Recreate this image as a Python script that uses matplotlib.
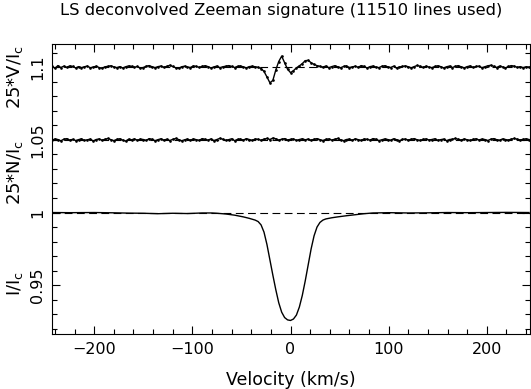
"""
LSD Zeeman signature plot: Stokes I, null N and Stokes V profiles.
"""

import numpy as np
import matplotlib
matplotlib.use("Agg")
import matplotlib.pyplot as plt

plt.rcParams['font.family'] = ['DejaVu Sans']
plt.rcParams['mathtext.default'] = 'regular'

# velocity grid of the N and V profiles (km/s), 3 km/s steps
velocity = np.arange(-243, 244, 3)

# 25*V/Ic deviations from its offset (units of 1e-4)
v_dev = [5, -8, 10, -3, 6, -2, 8, 4, -6, 3,
         -4, 2, 7, -5, 0, 6, -3, -8, 2, 5,
         9, 1, -4, 3, -6, 2, 8, 5, -2, 4,
         -7, -3, 6, 10, 2, -4, 3, 7, -1, 5,
         12, 4, -5, -9, 2, 6, 0, -3, 8, 4,
         -2, 5, 9, 3, -6, 1, 7, -4, 2, 6,
         10, 4, -3, 5, 8, 1, -5, 3, 6, 2,
         -2, -10, -30, -68, -108, -92, -20, 38, 75, 30,
         -15, -38, -25, -5, 8, 24, 44, 46, 30, 18,
         10, 5, 0, 7, -4, 3, 9, 2, -5, 4,
         8, -3, 1, 6, -2, 10, 4, -6, 3, 7,
         0, -4, 5, 9, 2, -3, 6, -7, 1, 4,
         8, 2, -5, 3, 11, 5, -2, 6, 0, -4,
         4, 9, 3, -6, 2, 7, -3, 5, 10, 1,
         -5, 3, 8, -2, 4, 6, -4, 2, 9, 12,
         5, -3, 7, 1, -6, 4, 10, 6, -2, 3,
         -4, 2, 0]

# 25*N/Ic deviations from its offset (units of 1e-4)
n_dev = [-3, 6, 2, -7, 4, 8, -2, 3, -5, 1,
         7, -4, 0, 5, -8, 2, 6, -3, 4, 9,
         1, -6, 3, 7, -2, -9, 4, 0, 6, -3,
         5, 2, -4, 8, 3, -6, 1, 7, -2, 4,
         -5, 3, 9, 2, -7, 0, 5, -3, 6, 1,
         -4, 8, 3, -2, 6, -5, 2, 10, 4, -3,
         1, 7, -6, 3, 5, -2, 8, 2, -4, 6,
         3, -3, 5, 9, 2, 12, 7, -2, 4, 8,
         -1, 3, 6, -4, 2, 7, 0, 5, -3, 4,
         8, 1, -5, 3, 6, -2, 4, 9, 0, -6,
         2, 5, -3, 7, 1, -4, 6, 3, -2, 8,
         4, -5, 0, 6, 2, -3, 7, 1, -6, 3,
         5, -2, 4, 8, 0, -4, 3, 6, -1, 2,
         7, -3, 1, 5, -6, 2, 4, 9, 3, -2,
         6, 0, -4, 3, 7, -1, 5, 2, -5, 4,
         8, 1, -3, 6, 2, -2, 5, 9, 4, -1,
         3, 7, 2]

v_offset = 1.10
n_offset = 1.05

# Stokes I profile
i_vel = [-243, -225, -200, -180, -165, -150, -135, -120, -105, -90, -80,
         -75, -66, -57, -48, -42, -36, -33, -30, -27, -24, -21, -18, -15,
         -12, -9, -6, -3, 0, 3, 6, 9, 12, 15, 18, 21, 24, 27, 30, 33, 36,
         42, 48, 57, 66, 75, 84, 100, 120, 140, 160, 180, 200, 220, 243]
i_flux = [1.0000, 0.9999, 1.0000, 0.9998, 0.9996, 0.9995, 0.9992, 0.9995,
          0.9993, 0.9997, 0.9997, 0.9995, 0.9990, 0.9982, 0.9970, 0.9960,
          0.9948, 0.9938, 0.9915, 0.9865, 0.9780, 0.9675, 0.9570, 0.9470,
          0.9380, 0.9315, 0.9278, 0.9262, 0.9258, 0.9268, 0.9295, 0.9350,
          0.9430, 0.9530, 0.9640, 0.9750, 0.9840, 0.9900, 0.9932, 0.9948,
          0.9956, 0.9964, 0.9970, 0.9978, 0.9985, 0.9992, 0.9997, 0.9999,
          0.9997, 0.9998, 1.0000, 0.9999, 1.0000, 1.0001, 1.0000]

fig = plt.figure(figsize=(5.31, 3.89), dpi=100)
ax = fig.add_axes([52 / 531, 55 / 389, 478 / 531, 290.5 / 389])

# reference levels
for level in (1.0, n_offset, v_offset):
    ax.axhline(level, color='k', linestyle=(0, (7, 4)), linewidth=0.8, zorder=1)

ax.plot(i_vel, i_flux, color='k', linewidth=1.0, zorder=2)
ax.plot(velocity, n_offset + np.array(n_dev) * 1e-4, color='k', linewidth=1.0,
        marker='.', markersize=1.8, zorder=2)
ax.plot(velocity, v_offset + np.array(v_dev) * 1e-4, color='k', linewidth=1.0,
        marker='.', markersize=1.8, zorder=2)

ax.set_xlim(-243, 244)
ax.set_ylim(0.9165, 1.1162)

ax.set_xticks([-200, -100, 0, 100, 200])
ax.set_xticklabels(['\u2212200', '\u2212100', '0', '100', '200'])
ax.set_xticks(np.arange(-240, 241, 20), minor=True)
ax.set_yticks([0.95, 1.0, 1.05, 1.1])
ax.set_yticklabels(['0.95', '1', '1.05', '1.1'], rotation=90, va='center')
ax.set_yticks(np.arange(0.92, 1.111, 0.01), minor=True)

ax.tick_params(which='both', direction='in', top=True, right=True,
               labelsize=11.5, width=0.8)
ax.tick_params(which='major', length=6)
ax.tick_params(which='minor', length=3.5)
ax.tick_params(axis='x', pad=6)
ax.tick_params(axis='y', pad=5)
for spine in ax.spines.values():
    spine.set_linewidth(0.8)

fig.text(281 / 531, 1 - 11 / 389, 'LS deconvolved Zeeman signature (11510 lines used)',
         ha='center', va='center', fontsize=11.8)
fig.text(291 / 531, 1 - 380 / 389, 'Velocity (km/s)', ha='center', va='center',
         fontsize=12.5)
for label, ypix in (('25*V/I$_c$', 77), ('25*N/I$_c$', 172), ('I/I$_c$', 283)):
    fig.text(15 / 531, 1 - ypix / 389, label, rotation=90, ha='center',
             va='center', fontsize=13)

fig.savefig('out.png', dpi=100)
